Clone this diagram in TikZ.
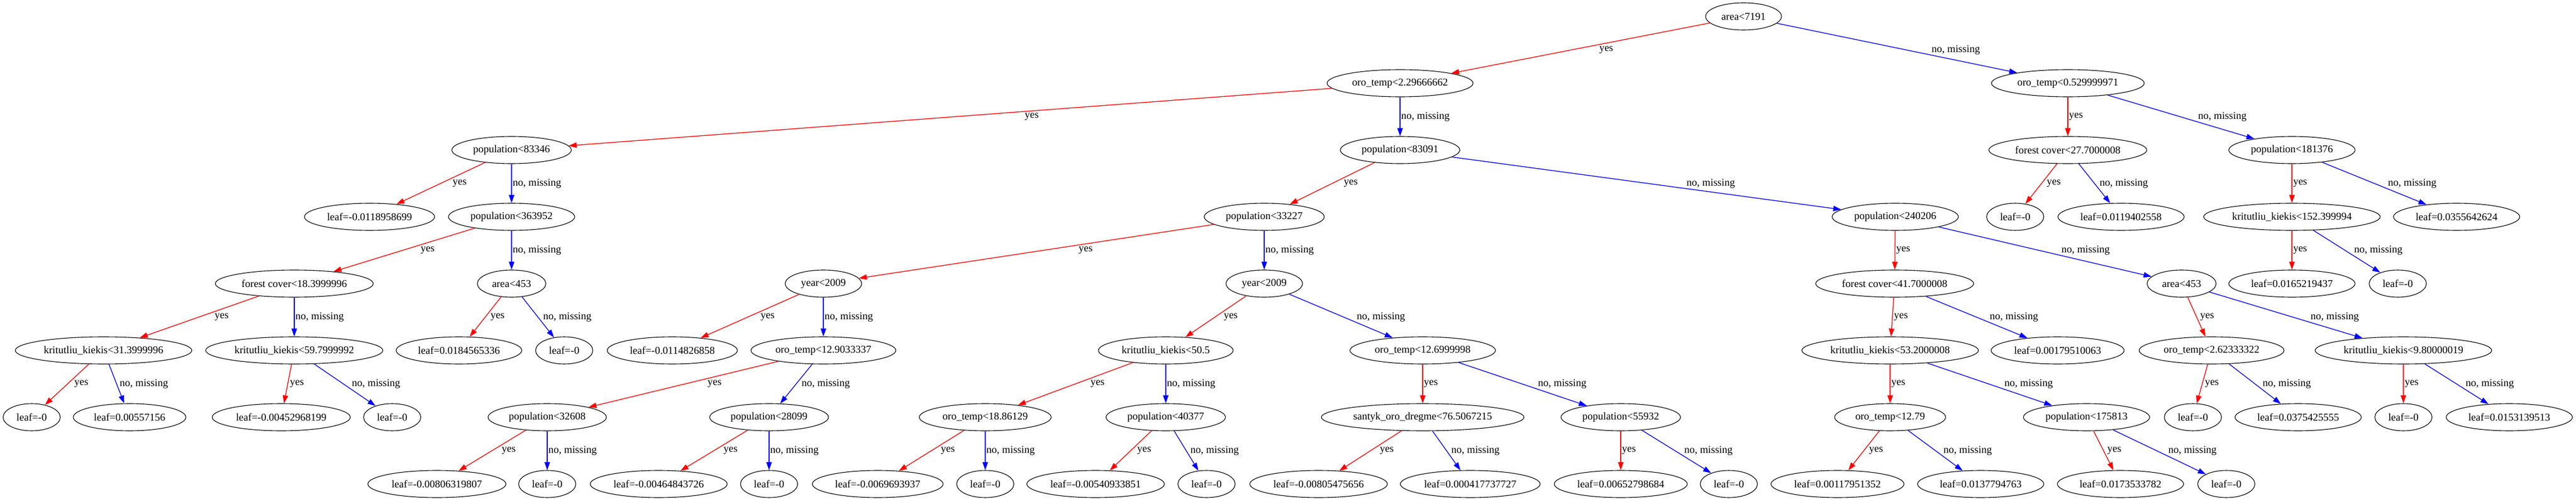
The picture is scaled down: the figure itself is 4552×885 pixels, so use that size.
\documentclass[tikz,border=0pt]{standalone}
\usepackage{fontspec}
\setmainfont{Liberation Serif}
\usetikzlibrary{shapes.geometric,arrows.meta,calc}
\newcommand\fs{\fontsize{18.5}{22}\selectfont}
\tikzset{
  nd/.style={draw, ellipse, line width=1.1pt, inner sep=0pt, minimum height=48pt, minimum width=101pt, font=\fs},
  conn/.style={line width=1.3pt, -{Triangle[length=14pt,width=9.5pt]}},
  yc/.style={red},
  nc/.style={blue},
  lbl/.style={inner sep=0pt, font=\fs}
}
\newcommand\conn[4]{%
  \draw[conn,#3] (#1) -- (#2);
  \path let \p1=(#1.center), \p2=(#2.center) in
    node[lbl,anchor=west] at ({(\x1+\x2)/2+9*abs(\x2-\x1)/abs(\y2-\y1)*1pt+2pt},{(\y1+\y2)/2}) {#4};
}
\newcommand\yesE[2]{\conn{#1}{#2}{yc}{yes}}
\newcommand\noE[2]{\conn{#1}{#2}{nc}{no, missing}}
\begin{document}
\begin{tikzpicture}[x=1pt,y=-1pt]
\useasboundingbox (0,0) rectangle (4552,885);
\fill[white] (0,0) rectangle (4552,885);
% level 0
\node[nd, minimum width=134pt] (n0) at (3081,29) {area<7191};
% level 1
\node[nd, minimum width=258pt] (n1) at (2474,147) {oro\_temp<2.29666662};
\node[nd, minimum width=270pt] (n2) at (3654,147) {oro\_temp<0.529999971};
% level 2
\node[nd, minimum width=211pt] (n3) at (904,265) {population<83346};
\node[nd, minimum width=211pt] (n4) at (2474,265) {population<83091};
\node[nd, minimum width=279pt] (n5) at (3654,265) {forest cover<27.7000008};
\node[nd, minimum width=223pt] (n6) at (4050,265) {population<181376};
% level 3
\node[nd, minimum width=230pt] (n7) at (653,383) {leaf=-0.0118958699};
\node[nd, minimum width=223pt] (n8) at (904,383) {population<363952};
\node[nd, minimum width=212pt] (n9) at (2234,383) {population<33227};
\node[nd, minimum width=223pt] (n10) at (3349,383) {population<240206};
\node[nd] (n11) at (3561,383) {leaf=-0};
\node[nd, minimum width=223pt] (n12) at (3748,383) {leaf=0.0119402558};
\node[nd, minimum width=312pt] (n13) at (4050,383) {kritutliu\_kiekis<152.399994};
\node[nd, minimum width=223pt] (n14) at (4341,383) {leaf=0.0355642624};
% level 4
\node[nd, minimum width=279pt] (n15) at (520,501) {forest cover<18.3999996};
\node[nd, minimum width=121pt] (n16) at (904,501) {area<453};
\node[nd, minimum width=135pt] (n17) at (1455,501) {year<2009};
\node[nd, minimum width=135pt] (n18) at (2234,501) {year<2009};
\node[nd, minimum width=279pt] (n19) at (3348,501) {forest cover<41.7000008};
\node[nd, minimum width=122pt] (n20) at (3855,501) {area<453};
\node[nd, minimum width=223pt] (n21) at (4050,501) {leaf=0.0165219437};
\node[nd] (n22) at (4237,501) {leaf=-0};
% level 5
\node[nd, minimum width=312pt] (n23) at (183,619) {kritutliu\_kiekis<31.3999996};
\node[nd, minimum width=313pt] (n24) at (520,619) {kritutliu\_kiekis<59.7999992};
\node[nd, minimum width=222pt] (n25) at (811,619) {leaf=0.0184565336};
\node[nd] (n26) at (997,619) {leaf=-0};
\node[nd, minimum width=230pt] (n27) at (1188,619) {leaf=-0.0114826858};
\node[nd, minimum width=256pt] (n28) at (1455,619) {oro\_temp<12.9033337};
\node[nd, minimum width=238pt] (n29) at (2060,619) {kritutliu\_kiekis<50.5};
\node[nd, minimum width=257pt] (n30) at (2514,619) {oro\_temp<12.6999998};
\node[nd, minimum width=312pt] (n31) at (3340,619) {kritutliu\_kiekis<53.2000008};
\node[nd, minimum width=235pt] (n32) at (3636,619) {leaf=0.00179510063};
\node[nd, minimum width=256pt] (n33) at (3908,619) {oro\_temp<2.62333322};
\node[nd, minimum width=312pt] (n34) at (4247,619) {kritutliu\_kiekis<9.80000019};
% level 6
\node[nd] (n35) at (56,737) {leaf=-0};
\node[nd, minimum width=199pt] (n36) at (229,737) {leaf=0.00557156};
\node[nd, minimum width=244pt] (n37) at (497,737) {leaf=-0.00452968199};
\node[nd] (n38) at (693,737) {leaf=-0};
\node[nd, minimum width=209pt] (n39) at (967,737) {population<32608};
\node[nd, minimum width=210pt] (n40) at (1359,737) {population<28099};
\node[nd, minimum width=233pt] (n41) at (1741,737) {oro\_temp<18.86129};
\node[nd, minimum width=211pt] (n42) at (2060,737) {population<40377};
\node[nd, minimum width=358pt] (n43) at (2514,737) {santyk\_oro\_dregme<76.5067215};
\node[nd, minimum width=211pt] (n44) at (2864,737) {population<55932};
\node[nd, minimum width=196pt] (n45) at (3340,737) {oro\_temp<12.79};
\node[nd, minimum width=223pt] (n46) at (3687,737) {population<175813};
\node[nd] (n47) at (3875,737) {leaf=-0};
\node[nd, minimum width=223pt] (n48) at (4061,737) {leaf=0.0375425555};
\node[nd] (n49) at (4247,737) {leaf=-0};
\node[nd, minimum width=223pt] (n50) at (4434,737) {leaf=0.0153139513};
% level 7
\node[nd, minimum width=244pt] (n51) at (772,855) {leaf=-0.00806319807};
\node[nd] (n52) at (967,855) {leaf=-0};
\node[nd, minimum width=242pt] (n53) at (1164,855) {leaf=-0.00464843726};
\node[nd] (n54) at (1359,855) {leaf=-0};
\node[nd, minimum width=231pt] (n55) at (1551,855) {leaf=-0.0069693937};
\node[nd] (n56) at (1741,855) {leaf=-0};
\node[nd, minimum width=243pt] (n57) at (1936,855) {leaf=-0.00540933851};
\node[nd] (n58) at (2132,855) {leaf=-0};
\node[nd, minimum width=243pt] (n59) at (2330,855) {leaf=-0.00805475656};
\node[nd, minimum width=247pt] (n60) at (2598,855) {leaf=0.000417737727};
\node[nd, minimum width=235pt] (n61) at (2864,855) {leaf=0.00652798684};
\node[nd] (n62) at (3055,855) {leaf=-0};
\node[nd, minimum width=235pt] (n63) at (3247,855) {leaf=0.00117951352};
\node[nd, minimum width=223pt] (n64) at (3500,855) {leaf=0.0137794763};
\node[nd, minimum width=223pt] (n65) at (3747,855) {leaf=0.0173533782};
\node[nd] (n66) at (3934,855) {leaf=-0};
% edges
\yesE{n0}{n1} \noE{n0}{n2}
\yesE{n1}{n3} \noE{n1}{n4}
\yesE{n2}{n5} \noE{n2}{n6}
\yesE{n3}{n7} \noE{n3}{n8}
\yesE{n4}{n9} \noE{n4}{n10}
\yesE{n5}{n11} \noE{n5}{n12}
\yesE{n6}{n13} \noE{n6}{n14}
\yesE{n8}{n15} \noE{n8}{n16}
\yesE{n9}{n17} \noE{n9}{n18}
\yesE{n10}{n19} \noE{n10}{n20}
\yesE{n13}{n21} \noE{n13}{n22}
\yesE{n15}{n23} \noE{n15}{n24}
\yesE{n16}{n25} \noE{n16}{n26}
\yesE{n17}{n27} \noE{n17}{n28}
\yesE{n18}{n29} \noE{n18}{n30}
\yesE{n19}{n31} \noE{n19}{n32}
\yesE{n20}{n33} \noE{n20}{n34}
\yesE{n23}{n35} \noE{n23}{n36}
\yesE{n24}{n37} \noE{n24}{n38}
\yesE{n28}{n39} \noE{n28}{n40}
\yesE{n29}{n41} \noE{n29}{n42}
\yesE{n30}{n43} \noE{n30}{n44}
\yesE{n31}{n45} \noE{n31}{n46}
\yesE{n33}{n47} \noE{n33}{n48}
\yesE{n34}{n49} \noE{n34}{n50}
\yesE{n39}{n51} \noE{n39}{n52}
\yesE{n40}{n53} \noE{n40}{n54}
\yesE{n41}{n55} \noE{n41}{n56}
\yesE{n42}{n57} \noE{n42}{n58}
\yesE{n43}{n59} \noE{n43}{n60}
\yesE{n44}{n61} \noE{n44}{n62}
\yesE{n45}{n63} \noE{n45}{n64}
\yesE{n46}{n65} \noE{n46}{n66}
\end{tikzpicture}
\end{document}
